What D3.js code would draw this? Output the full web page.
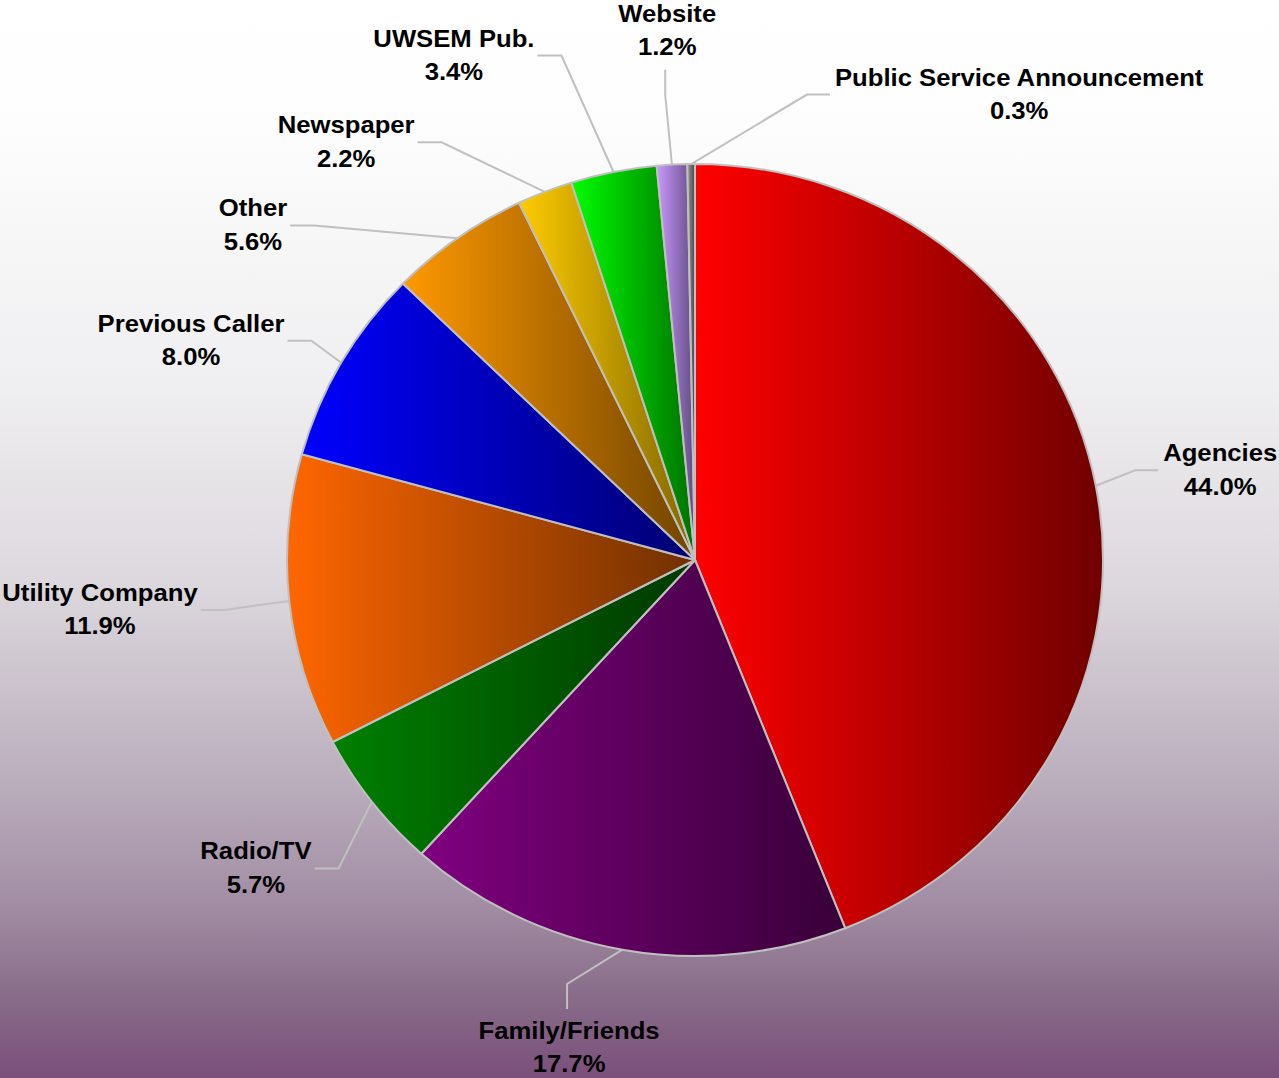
<!DOCTYPE html>
<html>
<head>
<meta charset="utf-8">
<script src="https://cdn.jsdelivr.net/npm/d3@7"></script>
<style>
  body { margin: 0; padding: 0; overflow: hidden; }
  svg { display: block; }
</style>
</head>
<body>
<div id="chart"></div>
<script>
// Chart data
var categories = ["Agencies", "Family/Friends", "Radio/TV", "Utility Company", "Previous Caller",
                  "Other", "Newspaper", "UWSEM Pub.", "Website", "Public Service Announcement"];
var percents = [44.0, 17.7, 5.7, 11.9, 8.0, 5.6, 2.2, 3.4, 1.2, 0.3];

// Slice colours (light end, dark end of each gradient)
var lightColors = ["#ff0000", "#800080", "#008000", "#ff6600", "#0000ff",
                   "#ff9900", "#ffcc00", "#00ff00", "#cc99ff", "#999999"];
var darkColors = ["#700000", "#380038", "#003800", "#703000", "#000070",
                  "#704400", "#806600", "#007000", "#5f4a80", "#444444"];

// Label placement (angle in degrees from top, distance from centre)
var labelAngle = [80.2, 194.5, 235.0, 265.3, 293.6, 307.2, 320.2, 334.5, 357.0, 34.8];
var labelDist = [533, 503, 536, 597, 550, 555, 545, 560, 531, 568];

var width = 1279, height = 1078;
var cx = 695, cy = 560;
var rx = 408, ry = 396;
var fontScale = 1.07;

var svg = d3.select("#chart").append("svg")
    .attr("width", width)
    .attr("height", height);

var defs = svg.append("defs");

// Background gradient (white at top, purple at bottom)
var bg = defs.append("linearGradient")
    .attr("id", "bg")
    .attr("x1", 0).attr("y1", 0).attr("x2", 0).attr("y2", 1);
[[0, "#ffffff"], [0.12, "#fdfdfd"], [0.36, "#efeef0"], [0.54, "#ddd8de"],
 [0.72, "#bbafbd"], [0.835, "#a38ea5"], [0.928, "#876b88"], [1, "#7b4f7b"]].forEach(function(s) {
    bg.append("stop").attr("offset", s[0]).attr("stop-color", s[1]);
});

svg.append("rect")
    .attr("width", width)
    .attr("height", height)
    .attr("fill", "url(#bg)");

// One horizontal gradient per slice
categories.forEach(function(c, i) {
    var g = defs.append("linearGradient")
        .attr("id", "slice" + i)
        .attr("x1", 0).attr("y1", 0).attr("x2", 1).attr("y2", 0);
    g.append("stop").attr("offset", 0).attr("stop-color", lightColors[i]);
    g.append("stop").attr("offset", 1).attr("stop-color", darkColors[i]);
});

var data = categories.map(function(c, i) {
    return { name: c, value: percents[i], index: i };
});

var pie = d3.pie()
    .sort(null)
    .value(d => d.value);

var arcs = pie(data);

var arc = d3.arc()
    .innerRadius(0)
    .outerRadius(rx);

// Pie is slightly flattened vertically
var pieG = svg.append("g")
    .attr("transform", "translate(" + cx + "," + cy + ") scale(1," + (ry / rx) + ")");

pieG.selectAll("path")
    .data(arcs)
    .enter()
    .append("path")
    .attr("d", arc)
    .attr("fill", d => "url(#slice" + d.data.index + ")")
    .attr("stroke", "#c0c0c0")
    .attr("stroke-width", 2)
    .attr("stroke-linejoin", "round")
    .attr("vector-effect", "non-scaling-stroke");

// Labels
var labelG = svg.append("g");

arcs.forEach(function(d, i) {
    var a = labelAngle[i] * Math.PI / 180;
    var lx = cx + labelDist[i] * Math.sin(a);
    var ly = cy - labelDist[i] * Math.cos(a);

    var t = labelG.append("g")
        .attr("transform", "translate(" + lx + "," + ly + ") scale(" + fontScale + ",1)");

    var name = t.append("text")
        .attr("x", 0)
        .attr("y", -8)
        .attr("text-anchor", "middle")
        .style("font-family", "'Liberation Sans', Arial, sans-serif")
        .style("font-weight", "bold")
        .style("font-size", "24px")
        .attr("fill", "#000")
        .text(d.data.name);

    var pct = t.append("text")
        .attr("x", 0)
        .attr("y", 25.5)
        .attr("text-anchor", "middle")
        .style("font-family", "'Liberation Sans', Arial, sans-serif")
        .style("font-weight", "bold")
        .style("font-size", "24px")
        .attr("fill", "#000")
        .text(d.data.value.toFixed(1) + "%");

    var halfW = Math.max(name.node().getComputedTextLength(), pct.node().getComputedTextLength()) * fontScale / 2;

    // Leader line: from arc at the slice middle, to an elbow, to the label edge
    var mid = (d.startAngle + d.endAngle) / 2;
    var px = cx + rx * Math.sin(mid);
    var py = cy - ry * Math.cos(mid);

    var endPt, elbow;
    var dx = lx - cx;
    if (Math.abs(dx) < 150) {
        if (ly > cy) {
            endPt = [lx - 2, ly - 38];
            elbow = [lx - 2, ly - 63];
        } else {
            endPt = [lx - 2, ly + 40];
            elbow = [lx - 2, ly + 65];
        }
    } else if (dx < 0) {
        endPt = [lx + halfW + 3, ly + 1];
        elbow = [lx + halfW + 27, ly + 1];
    } else {
        endPt = [lx - halfW - 5, ly + 1];
        elbow = [lx - halfW - 28, ly + 1];
    }

    labelG.append("path")
        .attr("d", d3.line()([endPt, elbow, [px, py]]))
        .attr("fill", "none")
        .attr("stroke", "#c0c0c0")
        .attr("stroke-width", 2);
});
</script>
</body>
</html>
